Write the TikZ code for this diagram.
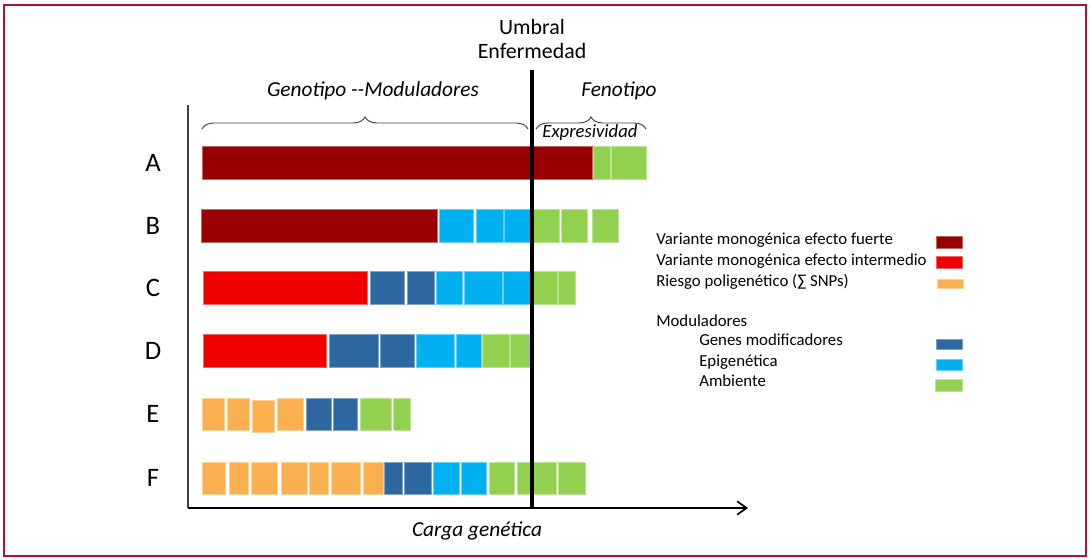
\documentclass[tikz,border=0pt]{standalone}
\usepackage{fontspec}
\setmainfont{Carlito}
\usetikzlibrary{arrows.meta,decorations.pathreplacing}
\definecolor{frameRed}{HTML}{B0122F}
\definecolor{cDR}{HTML}{990000}
\definecolor{cRD}{HTML}{EE0000}
\definecolor{cOR}{HTML}{FBB050}
\definecolor{cDB}{HTML}{2D68A0}
\definecolor{cCY}{HTML}{00B0F0}
\definecolor{cGR}{HTML}{92D050}
\newcommand\drawsegs[4]{\foreach \a/\b in {#2} {\path[seg=#1] (\a,#3) rectangle (\b,#4);}}
\begin{document}
\begin{tikzpicture}[x=0.75pt,y=-0.75pt,
  seg/.style={fill=#1,draw=#1!60!white,line width=0.5pt},
  rowlab/.style={font=\fontsize{20}{22}\selectfont,inner sep=0pt},
  leg/.style={font=\fontsize{12.6}{14}\selectfont,anchor=mid west,inner sep=0pt},
  head/.style={font=\fontsize{16}{18}\selectfont\itshape,inner sep=0pt},
  swatch/.style={fill=#1,draw=#1!60!white,line width=0.4pt},
  bracestyle/.style={draw=black!75,line width=0.7pt,decorate,decoration={brace,amplitude=9pt}}]
\useasboundingbox (0,0) rectangle (1092,560);
% frame
\draw[frameRed,line width=1.3pt] (4,5) rectangle (1086,556);
% axes
\coordinate (yTop) at (188,105);
\coordinate (origin) at (188,508);
\coordinate (xEnd) at (748,508);
\draw[black!75,line width=1pt] (yTop) -- (origin);
\draw[line width=1.5pt,-{Straight Barb[length=7pt,width=10pt,line width=1.3pt]}] (origin) -- (xEnd);
% row A
\drawsegs{cDR}{202/592}{146}{179}
\drawsegs{cGR}{593/610,611/646}{146}{179}
% row B
\drawsegs{cDR}{201/437}{209}{242}
\drawsegs{cCY}{439/473,476/503,504/531}{209}{242}
\drawsegs{cGR}{533/559,561/587,592/618}{209}{242}
% row C
\drawsegs{cRD}{203/367}{271}{304}
\drawsegs{cDB}{370/404,407/434}{271}{304}
\drawsegs{cCY}{436/462,464/502,503/531}{271}{304}
\drawsegs{cGR}{533/557,558/575}{271}{304}
% row D
\drawsegs{cRD}{203/326}{334}{367}
\drawsegs{cDB}{329/378,380/414}{334}{367}
\drawsegs{cCY}{416/454,456/481}{334}{367}
\drawsegs{cGR}{482/509,510/530}{334}{367}
% row E
\drawsegs{cOR}{202/224,227/249,277/303}{398}{430}
\drawsegs{cOR}{252/274}{400}{432}
\drawsegs{cDB}{306/331,333/357}{398}{430}
\drawsegs{cGR}{360/391,393/410}{398}{430}
% row F
\drawsegs{cOR}{202/225,229/248,251/277,281/307,309/328,331/360,363/383}{462}{494}
\drawsegs{cDB}{384/402,404/431}{462}{494}
\drawsegs{cCY}{433/459,461/486}{462}{494}
\drawsegs{cGR}{489/514,517/556,558/585}{462}{494}
% threshold
\coordinate (thrTop) at (532,70);
\coordinate (thrBot) at (532,508);
\draw[line width=2.6pt] (thrTop) -- (thrBot);
% row labels
\node[rowlab] (lA) at (153,163) {A};
\node[rowlab] (lB) at (153,226) {B};
\node[rowlab] (lC) at (153,288) {C};
\node[rowlab] (lD) at (153,351) {D};
\node[rowlab] (lE) at (153,414) {E};
\node[rowlab] (lF) at (153,478) {F};
% headings
\node[font=\fontsize{16.4}{18.5}\selectfont,align=center,inner sep=0pt] (umbral) at (532,39) {Umbral\\Enfermedad};
\node[head] (geno) at (373,91) {Genotipo -{}-Moduladores};
\node[head] (feno) at (619,91) {Fenotipo};
\node[font=\fontsize{14}{16}\selectfont\itshape,inner sep=0pt] (expr) at (590,133) {Expresividad};
\node[head] (carga) at (477,531) {Carga genética};
% braces
\coordinate (bgL) at (202,129);
\coordinate (bgR) at (528,129);
\coordinate (bfL) at (536,129);
\coordinate (bfR) at (646,129);
\draw[bracestyle] (bgL) -- (bgR);
\draw[bracestyle] (bfL) -- (bfR);
% legend
\node[leg] (t1) at (656,241) {Variante monogénica efecto fuerte};
\node[leg] (t2) at (656,262) {Variante monogénica efecto intermedio};
\node[leg] (t3) at (656,283) {Riesgo poligenético (∑ SNPs)};
\node[leg] (t4) at (656,323) {Moduladores};
\node[leg] (t5) at (699,342) {Genes modificadores};
\node[leg] (t6) at (699,363) {Epigenética};
\node[leg] (t7) at (699,383) {Ambiente};
\path[swatch=cDR] (936,236) rectangle (962,248);
\path[swatch=cRD] (936,256) rectangle (962,268);
\path[swatch=cOR] (937,279) rectangle (963,288);
\path[swatch=cDB] (936,339) rectangle (962,349);
\path[swatch=cCY] (936,359) rectangle (962,370);
\path[swatch=cGR] (935,379) rectangle (962,391);
\end{tikzpicture}
\end{document}
